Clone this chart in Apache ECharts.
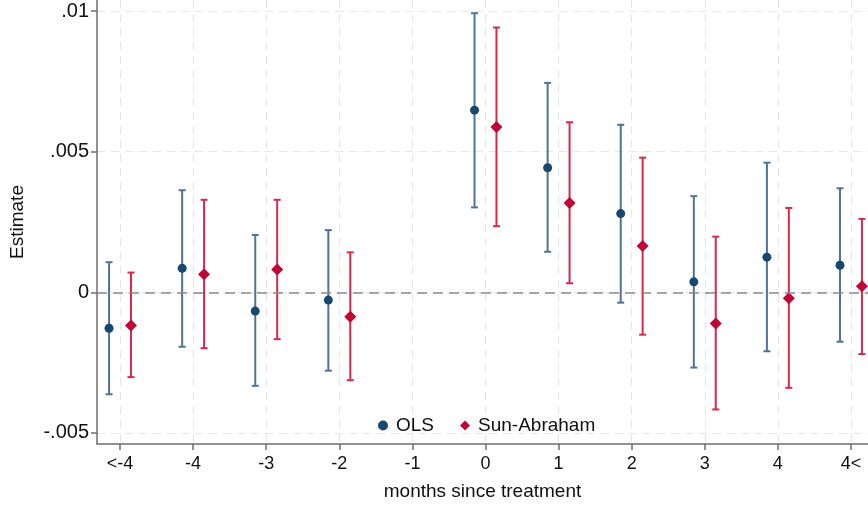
<!DOCTYPE html>
<html lang="en">
  <head>
    <meta charset="UTF-8" />
    <title>Event study</title>
    <style>
      html, body { margin: 0; padding: 0; background: #fff; }
    </style>
  </head>
  <body>
    <div id="main" style="width: 868px; height: 508px"></div>
    <script src="https://cdn.jsdelivr.net/npm/echarts@6.0.0/dist/echarts.min.js"></script>
    <script>
      // event time positions and labels
      const eventTime = [-5, -4, -3, -2, -1, 0, 1, 2, 3, 4, 5];
      const tickLabels = ["<-4", "-4", "-3", "-2", "-1", "0", "1", "2", "3", "4", "4<"];

      // OLS (no estimate at -1, the reference period)
      const olsEst = [-0.00128, 0.00085, -0.00067, -0.00028, null, 0.00648, 0.00443, 0.0028, 0.00037, 0.00125, 0.00096];
      const olsLo = [-0.00363, -0.00194, -0.00333, -0.00279, null, 0.00302, 0.00144, -0.00037, -0.00268, -0.0021, -0.00176];
      const olsHi = [0.00107, 0.00363, 0.00204, 0.00221, null, 0.00993, 0.00745, 0.00596, 0.00342, 0.00461, 0.0037];

      // Sun-Abraham
      const saEst = [-0.00118, 0.00064, 0.00081, -0.00087, null, 0.00588, 0.00318, 0.00165, -0.00111, -0.00021, 0.00021];
      const saLo = [-0.00302, -0.00199, -0.00167, -0.00313, null, 0.00235, 0.00032, -0.00151, -0.00417, -0.0034, -0.0022];
      const saHi = [0.0007, 0.00329, 0.00329, 0.00142, null, 0.00942, 0.00605, 0.00479, 0.00198, 0.003, 0.00261];

      const yTicks = [-0.005, 0, 0.005, 0.01];
      const dodge = 0.15;

      const font = "'Liberation Sans', Arial, sans-serif";
      const navy = "#1a476f";
      const cranberry = "#c10534";

      function points(est, shift) {
        const out = [];
        est.forEach((v, i) => {
          if (v !== null) out.push([eventTime[i] + shift, v]);
        });
        return out;
      }
      function intervals(lo, hi, shift) {
        const out = [];
        lo.forEach((v, i) => {
          if (v !== null) out.push([eventTime[i] + shift, v, hi[i]]);
        });
        return out;
      }

      function renderCI(params, api) {
        const x = api.value(0);
        const a = api.coord([x, api.value(1)]);
        const b = api.coord([x, api.value(2)]);
        const color = api.visual("color");
        const cap = 3.5;
        const st = { stroke: color, lineWidth: 2 };
        return {
          type: "group",
          children: [
            { type: "line", shape: { x1: a[0], y1: a[1], x2: b[0], y2: b[1] }, style: st },
            { type: "line", shape: { x1: a[0] - cap, y1: a[1], x2: a[0] + cap, y2: a[1] }, style: st },
            { type: "line", shape: { x1: b[0] - cap, y1: b[1], x2: b[0] + cap, y2: b[1] }, style: st },
          ],
        };
      }

      const gridLine = { show: true, lineStyle: { color: "#e6e6e6", type: [8, 6], width: 1.2 } };
      const axisGray = { color: "#6e6e6e", width: 1.5 };

      var chartDom = document.getElementById("main");
      var myChart = echarts.init(chartDom);
      var option = {
        backgroundColor: "#fff",
        animation: false,
        textStyle: { fontFamily: font },
        grid: { left: 97, right: 0, top: 0, bottom: 64 },
        legend: {
          left: 373,
          top: 411,
          itemWidth: 10,
          itemHeight: 10,
          itemGap: 26,
          textStyle: { fontFamily: font, fontSize: 19, color: "#111", padding: [0, 0, 0, 3] },
          data: [
            { name: "OLS", icon: "circle", itemStyle: { color: navy } },
            { name: "Sun-Abraham", icon: "diamond", itemStyle: { color: cranberry } },
          ],
        },
        xAxis: {
          type: "value",
          min: -5.315,
          max: 5.233,
          name: "months since treatment",
          nameLocation: "middle",
          nameGap: 38,
          nameTextStyle: { fontFamily: font, fontSize: 19, color: "#111" },
          axisLine: { show: true, onZero: false, lineStyle: axisGray },
          axisTick: { show: true, length: 6, customValues: eventTime, lineStyle: axisGray },
          axisLabel: {
            customValues: eventTime,
            margin: 11,
            fontSize: 18,
            color: "#111",
            formatter: (v) => tickLabels[eventTime.indexOf(Math.round(v))],
          },
          splitLine: gridLine,
        },
        yAxis: {
          type: "value",
          min: -0.0054,
          max: 0.0104,
          name: "Estimate",
          nameLocation: "middle",
          nameGap: 70,
          nameRotate: 90,
          nameTextStyle: { fontFamily: font, fontSize: 19, color: "#111" },
          axisLine: { show: true, onZero: false, lineStyle: axisGray },
          axisTick: { show: true, length: 6, customValues: yTicks, lineStyle: axisGray },
          axisLabel: {
            customValues: yTicks,
            margin: 8,
            fontSize: 20,
            color: "#111",
            formatter: (v) => (v === 0 ? "0" : String(+v.toFixed(4)).replace("0.", ".")),
          },
          splitLine: gridLine,
        },
        series: [
          {
            name: "OLS",
            type: "custom",
            renderItem: renderCI,
            itemStyle: { color: "#4f7397" },
            encode: { x: 0, y: [1, 2] },
            data: intervals(olsLo, olsHi, -dodge),
            z: 2,
            markLine: {
              silent: true,
              symbol: "none",
              label: { show: false },
              lineStyle: { color: "#8a8a8a", type: [10, 6], width: 1.6 },
              data: [{ yAxis: 0 }],
            },
          },
          {
            name: "Sun-Abraham",
            type: "custom",
            renderItem: renderCI,
            itemStyle: { color: "#d42a4c" },
            encode: { x: 0, y: [1, 2] },
            data: intervals(saLo, saHi, dodge),
            z: 2,
          },
          {
            name: "OLS",
            type: "scatter",
            symbol: "circle",
            symbolSize: 9,
            itemStyle: { color: navy, opacity: 1 },
            data: points(olsEst, -dodge),
            z: 3,
          },
          {
            name: "Sun-Abraham",
            type: "scatter",
            symbol: "diamond",
            symbolSize: 12,
            itemStyle: { color: cranberry, opacity: 1 },
            data: points(saEst, dodge),
            z: 3,
          },
        ],
      };
      myChart.setOption(option);
    </script>
  </body>
</html>
